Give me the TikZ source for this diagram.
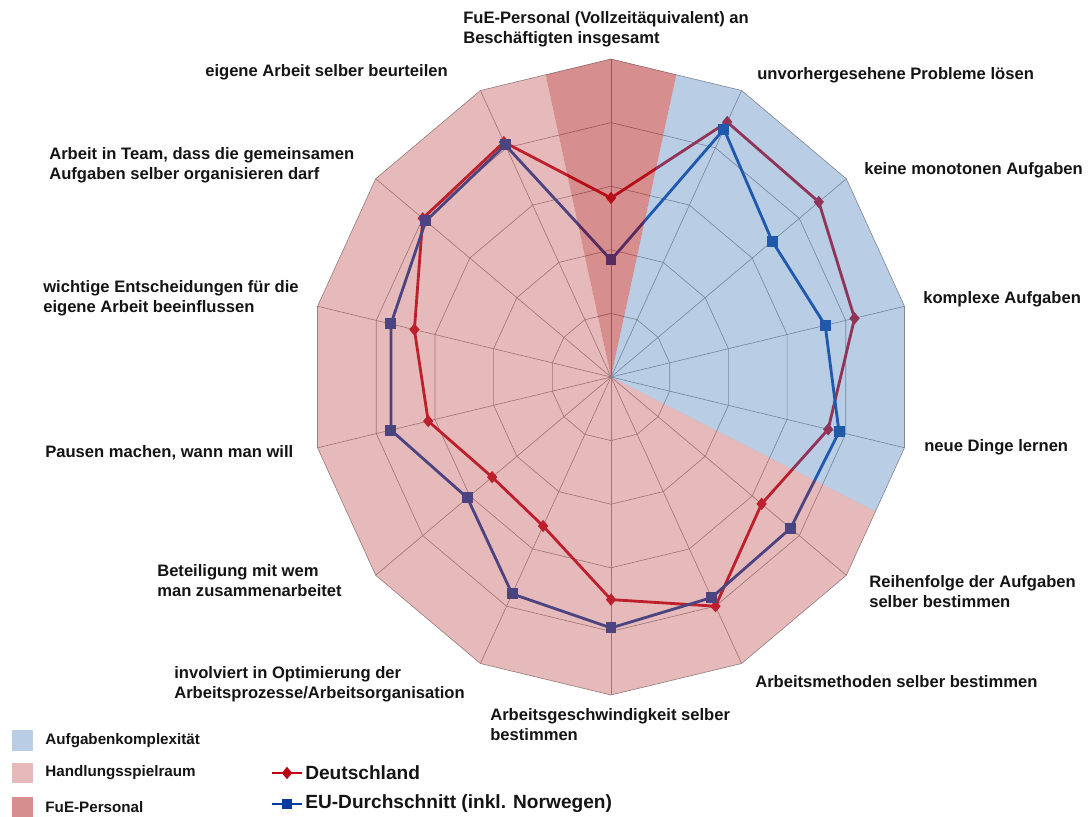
\documentclass[tikz,border=0pt]{standalone}
\usepackage{fontspec}
\setmainfont{Liberation Sans}
\usetikzlibrary{shapes.geometric, positioning}
\definecolor{gridgray}{RGB}{140,140,140}
\definecolor{deutschred}{RGB}{188,0,20}
\definecolor{eublue}{RGB}{0,60,160}
\definecolor{komplexblue}{RGB}{80,130,190}
\definecolor{spielraumpink}{RGB}{192,82,82}
\definecolor{fuered}{RGB}{175,29,29}
\definecolor{darktext}{RGB}{20,20,20}

\begin{document}
\begin{tikzpicture}[
    x=0.025cm, y=-0.025cm,
    axislabel/.style={anchor=west, align=left, inner sep=0pt, text=darktext, font=\fontsize{11.8pt}{14.2pt}\selectfont\bfseries},
    legendtext/.style={inner sep=0pt, text=darktext, font=\fontsize{10.8pt}{13pt}\selectfont\bfseries},
    seriestext/.style={inner sep=0pt, text=darktext, font=\fontsize{13.6pt}{16pt}\selectfont\bfseries},
    gridline/.style={draw=gridgray, line width=0.45pt},
    deline/.style={draw=deutschred, line width=2pt, line join=round},
    euline/.style={draw=eublue, line width=2pt, line join=round},
    demark/.style={diamond, fill=deutschred, inner sep=0pt, minimum width=7.5pt, minimum height=9pt},
    eumark/.style={rectangle, fill=eublue, inner sep=0pt, minimum size=7.8pt},
    areafill/.style={fill opacity=0.4},
    legendbox/.style={rectangle, inner sep=0pt, minimum size=0.52cm, fill opacity=0.4}
]
\useasboundingbox (0,0) rectangle (1089,816);

% corners of the 14-gon and mid points of its edges
\coordinate (centre) at (611,377);
\foreach \k in {0,...,13} {
    \coordinate (v\k) at ({611+301*cos(90-\k*360/14)}, {377-318*sin(90-\k*360/14)});
    \coordinate (m\k) at ({611+293.45*cos(90-(\k+0.5)*360/14)}, {377-310.03*sin(90-(\k+0.5)*360/14)});
}

% grid
\foreach \r in {0.2,0.4,0.6,0.8,1} {
    \draw[gridline] plot[samples at={0,...,13}] ({611+301*\r*cos(90-\x*360/14)}, {377-318*\r*sin(90-\x*360/14)}) -- cycle;
}
\foreach \k in {0,...,13}
    \draw[gridline] (centre) -- (v\k);

% Deutschland
\foreach \val [count=\i from 0] in {0.563,0.89,0.883,0.83,0.74,0.64,0.80,0.70,0.52,0.505,0.623,0.67,0.80,0.82}
    \coordinate (de\i) at ({611+301*\val*cos(90-\i*360/14)}, {377-318*\val*sin(90-\i*360/14)});
\draw[deline] (de0) foreach \i in {1,...,13} { -- (de\i) } -- cycle;
\foreach \i in {0,...,13}
    \node (dem\i) [demark] at (de\i) {};

% EU-Durchschnitt
\foreach \val [count=\i from 0] in {0.368,0.865,0.685,0.73,0.777,0.763,0.77,0.789,0.757,0.61,0.75,0.75,0.787,0.81}
    \coordinate (eu\i) at ({611+301*\val*cos(90-\i*360/14)}, {377-318*\val*sin(90-\i*360/14)});
\draw[euline] (eu0) foreach \i in {1,...,13} { -- (eu\i) } -- cycle;
\foreach \i in {0,...,13}
    \node (eum\i) [eumark] at (eu\i) {};

% areas
\fill[komplexblue, areafill] (centre) -- (m0) -- (v1) -- (v2) -- (v3) -- (v4) -- (m4) -- cycle;
\fill[spielraumpink, areafill] (centre) -- (m4) foreach \k in {5,...,13} { -- (v\k) } -- (m13) -- cycle;
\fill[fuered, fill opacity=0.5] (centre) -- (m13) -- (v0) -- (m0) -- cycle;

% axis labels
\node (lblFuE) [axislabel] at (463,29) {FuE-Personal (Vollzeitäquivalent) an\\Beschäftigten insgesamt};
\node (lblProbleme) [axislabel] at (757,75) {unvorhergesehene Probleme lösen};
\node (lblMonoton) [axislabel] at (864,170) {keine monotonen Aufgaben};
\node (lblKomplex) [axislabel] at (923,299) {komplexe Aufgaben};
\node (lblLernen) [axislabel] at (924,447) {neue Dinge lernen};
\node (lblReihenfolge) [axislabel] at (869,592) {Reihenfolge der Aufgaben\\selber bestimmen};
\node (lblMethoden) [axislabel] at (755,682) {Arbeitsmethoden selber bestimmen};
\node (lblTempo) [axislabel] at (490,725) {Arbeitsgeschwindigkeit selber\\bestimmen};
\node (lblOptimierung) [axislabel] at (174,684.5) {involviert in Optimierung der\\Arbeitsprozesse/Arbeitsorganisation};
\node (lblBeteiligung) [axislabel] at (157,581) {Beteiligung mit wem\\man zusammenarbeitet};
\node (lblPausen) [axislabel] at (45,453) {Pausen machen, wann man will};
\node (lblEntscheidung) [axislabel] at (43,298) {wichtige Entscheidungen für die\\eigene Arbeit beeinflussen};
\node (lblTeam) [axislabel] at (49,165) {Arbeit in Team, dass die gemeinsamen\\Aufgaben selber organisieren darf};
\node (lblBeurteilen) [axislabel] at (205,72) {eigene Arbeit selber beurteilen};

% legend
\node (boxKomplex) [legendbox, fill=komplexblue] at (22.5,740.5) {};
\node (boxSpielraum) [legendbox, fill=spielraumpink] at (22.5,773) {};
\node (boxFuE) [legendbox, fill=fuered, fill opacity=0.5] at (22.5,807) {};
\node (legKomplex) [legendtext, right=0.3cm of boxKomplex] {Aufgabenkomplexität};
\node (legSpielraum) [legendtext, right=0.3cm of boxSpielraum] {Handlungsspielraum};
\node (legFuE) [legendtext, right=0.3cm of boxFuE] {FuE-Personal};

\coordinate (deStart) at (272,773);
\coordinate (deEnd) at (302,773);
\draw[deline] (deStart) -- (deEnd);
\node (deKey) [demark] at (287,773) {};
\node (legDeutschland) [seriestext, right=0.075cm of deEnd] {Deutschland};

\coordinate (euStart) at (272,804);
\coordinate (euEnd) at (302,804);
\draw[euline] (euStart) -- (euEnd);
\node (euKey) [eumark] at (287,804) {};
\node (legEU) [seriestext, right=0.075cm of euEnd] {EU-Durchschnitt (inkl. Norwegen)};

\end{tikzpicture}
\end{document}
